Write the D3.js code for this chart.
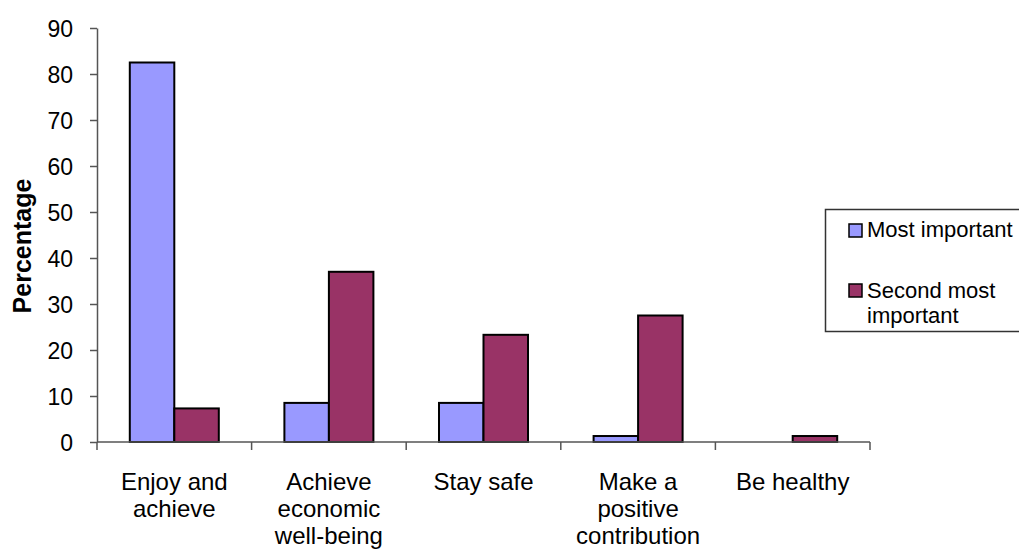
<!DOCTYPE html>
<html>
<head>
<meta charset="utf-8">
<script src="https://cdn.jsdelivr.net/npm/d3@7"></script>
<style>
  html, body { margin: 0; padding: 0; background: #ffffff; }
  svg { display: block; font-family: "Liberation Sans", Arial, sans-serif; }
</style>
</head>
<body>
<svg id="chart" width="1019" height="550"></svg>
<script>
const categories = [
  ["Enjoy and", "achieve"],
  ["Achieve", "economic", "well-being"],
  ["Stay safe"],
  ["Make a", "positive", "contribution"],
  ["Be healthy"]
];
const seriesNames = ["Most important", "Second most important"];
const mostImportant = [82.5, 8.5, 8.5, 1.3, 0];
const secondMostImportant = [7.3, 37.0, 23.3, 27.5, 1.3];
const yTicks = [0, 10, 20, 30, 40, 50, 60, 70, 80, 90];
const colors = ["#9999FF", "#993366"];

const svg = d3.select("#chart");
const catKeys = categories.map(c => c.join(" "));
const values = [mostImportant, secondMostImportant];

const x0 = d3.scaleBand().domain(catKeys).range([97, 870]).padding(0);
const x1 = d3.scaleBand().domain(seriesNames).range([0, x0.bandwidth()])
  .paddingInner(0).paddingOuter(0.737);
const y = d3.scaleLinear().domain([0, 90]).range([442, 28]);

// bars
catKeys.forEach((k, i) => {
  seriesNames.forEach((s, j) => {
    const v = values[j][i];
    if (v <= 0) return;
    svg.append("rect")
      .attr("x", x0(k) + x1(s))
      .attr("y", y(v))
      .attr("width", x1.bandwidth())
      .attr("height", y(0) - y(v))
      .attr("fill", colors[j])
      .attr("stroke", "#000")
      .attr("stroke-width", 2);
  });
});

// y axis
const yAxis = d3.axisLeft(y).tickValues(yTicks).tickSize(7).tickPadding(17).tickSizeOuter(0);
const gy = svg.append("g").attr("transform", "translate(97,0)").call(yAxis);
gy.select(".domain").attr("stroke", "#555").attr("stroke-width", 1.5);
gy.selectAll(".tick line").attr("stroke", "#555").attr("stroke-width", 1.5);
gy.selectAll(".tick text").attr("font-size", 23).attr("fill", "#000")
  .attr("font-family", "Liberation Sans, Arial, sans-serif").attr("dy", "0.35em");

// x axis line and ticks at band boundaries
svg.append("line").attr("x1", 97).attr("x2", 870).attr("y1", y(0)).attr("y2", y(0))
  .attr("stroke", "#555").attr("stroke-width", 1.5);
const bounds = catKeys.map(k => x0(k)).concat([x0.range()[1]]);
svg.selectAll(".xtick").data(bounds).enter().append("line")
  .attr("x1", d => d).attr("x2", d => d)
  .attr("y1", y(0)).attr("y2", y(0) + 8)
  .attr("stroke", "#555").attr("stroke-width", 1.5);

// x labels
categories.forEach((lines, i) => {
  const cx = x0(catKeys[i]) + x0.bandwidth() / 2;
  const t = svg.append("text").attr("text-anchor", "middle")
    .attr("font-size", 24).attr("fill", "#000");
  lines.forEach((ln, li) => {
    t.append("tspan").attr("x", cx).attr("y", 490 + li * 27).text(ln);
  });
});

// y axis title
svg.append("text")
  .attr("transform", "translate(31,246) rotate(-90)")
  .attr("text-anchor", "middle")
  .attr("font-size", 25).attr("font-weight", "bold").attr("fill", "#000")
  .text("Percentage");

// legend
svg.append("rect").attr("x", 825.5).attr("y", 209.5).attr("width", 220).attr("height", 122)
  .attr("fill", "#fff").attr("stroke", "#333").attr("stroke-width", 1.5);
const legendRows = [
  { lines: ["Most important"], y: 237, sy: 224 },
  { lines: ["Second most", "important"], y: 298, sy: 284 }
];
legendRows.forEach((r, j) => {
  svg.append("rect").attr("x", 849).attr("y", r.sy).attr("width", 13).attr("height", 13)
    .attr("fill", colors[j]).attr("stroke", "#000").attr("stroke-width", 1.5);
  const t = svg.append("text").attr("font-size", 22).attr("fill", "#000");
  r.lines.forEach((ln, li) => {
    t.append("tspan").attr("x", 867).attr("y", r.y + li * 25).text(ln);
  });
});
</script>
</body>
</html>
